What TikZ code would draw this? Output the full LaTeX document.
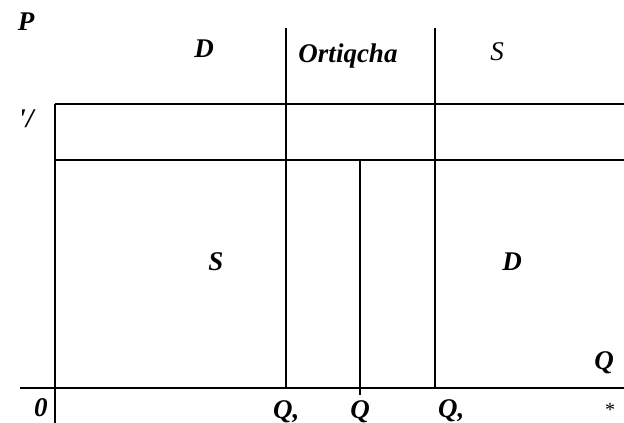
\documentclass[tikz,border=0pt]{standalone}
\usepackage{fontspec}
\setmainfont{Liberation Serif}
\begin{document}
\begin{tikzpicture}[x=1pt,y=-1pt,
  ln/.style={line width=1.3pt},
  lab/.style={inner sep=0pt,font=\fontsize{27}{27}\selectfont\bfseries\itshape},
  labr/.style={inner sep=0pt,font=\fontsize{27}{27}\selectfont\itshape}]
\useasboundingbox[fill=white] (0,0) rectangle (624,423);
% coordinates
\coordinate (xa0) at (20,388);
\coordinate (xa1) at (624,388);
\coordinate (ya0) at (55,104);
\coordinate (ya1) at (55,423);
\coordinate (h1a) at (55,104);
\coordinate (h1b) at (624,104);
\coordinate (h2a) at (55,160);
\coordinate (h2b) at (624,160);
\coordinate (v1a) at (286,28);
\coordinate (v1b) at (286,388);
\coordinate (v2a) at (360,160);
\coordinate (v2b) at (360,395);
\coordinate (v3a) at (435,28);
\coordinate (v3b) at (435,388);
\draw[ln] (xa0) -- (xa1);
\draw[ln] (ya0) -- (ya1);
\draw[ln] (h1a) -- (h1b);
\draw[ln] (h2a) -- (h2b);
\draw[ln] (v1a) -- (v1b);
\draw[ln] (v2a) -- (v2b);
\draw[ln] (v3a) -- (v3b);
% labels
\node[lab] (p) at (26,22) {P};
\node[lab] (dtop) at (204,49) {D};
\node[lab] (ort) at (348,56) {Ortiqcha};
\node[labr] (stop) at (497,52) {S};
\node[lab] (pr) at (26,119) {\textquotesingle/};
\node[lab] (smid) at (216,262) {S};
\node[lab] (dmid) at (512,262) {D};
\node[lab] (q) at (604,363) {Q};
\node[lab] (zero) at (41,408) {0};
\node[lab,anchor=north west] (q1) at (273,400) {Q,};
\node[lab,anchor=north] (q2) at (360,400) {Q};
\node[lab,anchor=north west] (q3) at (438,399) {Q,};
\node[labr,font=\fontsize{20}{20}\selectfont] (star) at (610,410) {*};
\end{tikzpicture}
\end{document}
